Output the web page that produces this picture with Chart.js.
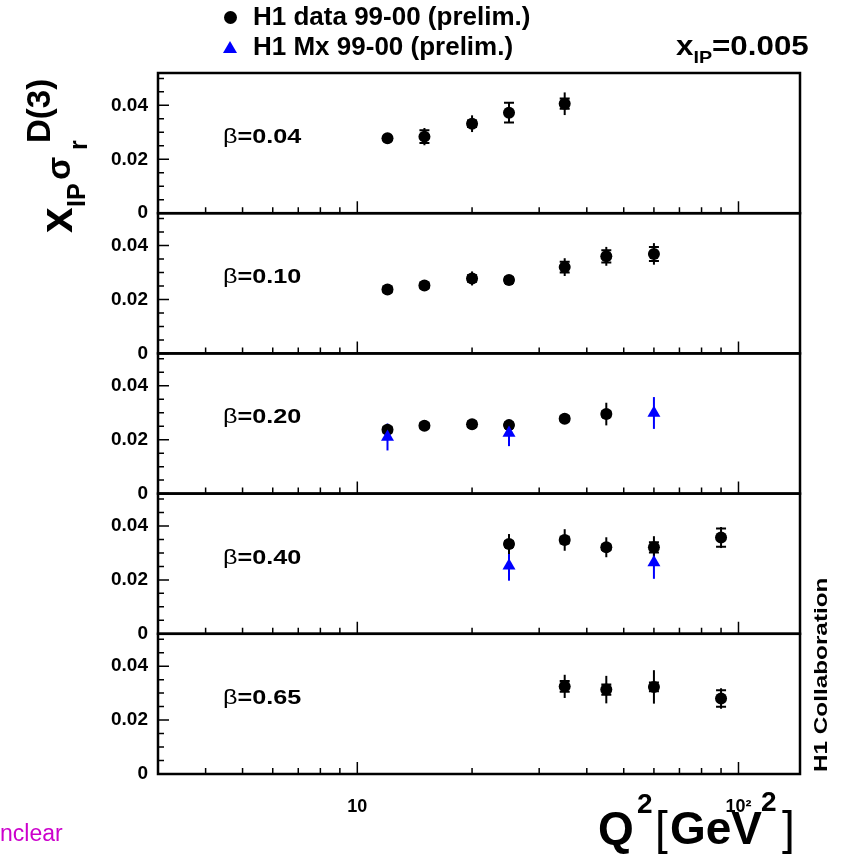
<!DOCTYPE html>
<html>
<head>
<meta charset="utf-8">
<script src="https://cdn.jsdelivr.net/npm/chart.js@4/dist/chart.umd.min.js"></script>
<style>
  body { margin: 0; background: #fff; font-family: "Liberation Sans", Arial, sans-serif; }
  #wrap { position: relative; width: 845px; height: 856px; overflow: hidden; }
  #wrap canvas { position: absolute; left: 0; top: 0; }
  .txt { position: absolute; white-space: nowrap; line-height: 1; color: #000; font-weight: bold; }
</style>
</head>
<body>
<div id="wrap">
  <canvas id="chart" width="845" height="856"></canvas>

  <!-- legend -->
  <div style="position:absolute;left:224px;top:11px;width:13px;height:13px;border-radius:50%;background:#000"></div>
  <div class="txt" style="left:253px;top:4px;font-size:25px;transform-origin:0 0;transform:scaleX(1.04)">H1 data 99-00 (prelim.)</div>
  <div style="position:absolute;left:223px;top:41px;width:0;height:0;border-left:7px solid transparent;border-right:7px solid transparent;border-bottom:12px solid #0000ff"></div>
  <div class="txt" style="left:253px;top:34px;font-size:25px;transform-origin:0 0;transform:scaleX(1.04)">H1 Mx 99-00 (prelim.)</div>

  <!-- x_IP label -->
  <div class="txt" style="left:676px;top:33px;font-size:27px;transform-origin:0 0;transform:scaleX(1.16)">x<span style="font-size:17px;position:relative;top:8px">IP</span>=0.005</div>

  <!-- y axis title, rotated -->
  <div style="position:absolute;left:20px;top:120px;width:200px;height:80px;transform-origin:100px 40px;transform:translate(-60px,0) rotate(-90deg);">
    <span class="txt" style="left:27px;top:13px;font-size:46px">x</span>
    <span class="txt" style="left:53px;top:44px;font-size:25px">IP</span>
    <span class="txt" style="left:80px;top:21px;font-size:34px">σ</span>
    <span class="txt" style="left:110px;top:46px;font-size:25px">r</span>
    <span class="txt" style="left:117px;top:2px;font-size:33px">D(3)</span>
  </div>

  <!-- x axis title -->
  <span class="txt" style="left:598px;top:805px;font-size:46px">Q</span>
  <span class="txt" style="left:637px;top:790px;font-size:28px">2</span>
  <span class="txt" style="left:655px;top:805px;font-size:46px;font-weight:normal">[</span>
  <span class="txt" style="left:670px;top:805px;font-size:46px">GeV</span>
  <span class="txt" style="left:761px;top:788px;font-size:28px">2</span>
  <span class="txt" style="left:782px;top:805px;font-size:46px;font-weight:normal">]</span>

  <!-- side note -->
  <div class="txt" style="left:812px;top:772px;font-size:18px;transform-origin:0 0;transform:rotate(-90deg) scaleX(1.35);">H1 Collaboration</div>

  <div class="txt" style="left:0px;top:822px;font-size:23px;font-weight:normal;color:#cc00cc">nclear</div>
</div>

<script>
// Q^2 tick marks on the log axis
const xTickVals = [4, 5, 6, 7, 8, 9, 10, 20, 30, 40, 50, 60, 70, 80, 90, 100];

// beta = 0.04
const q2B004 = [12, 15, 20, 25, 35];
const valB004 = [0.0278, 0.0284, 0.0332, 0.0373, 0.0406];
const totB004 = [0.0008, 0.0032, 0.0031, 0.0038, 0.0042];
const statB004 = [0.0006, 0.0024, 0.0012, 0.0037, 0.0019];

// beta = 0.10
const q2B010 = [12, 15, 20, 25, 35, 45, 60];
const valB010 = [0.0237, 0.0252, 0.0278, 0.0272, 0.0320, 0.0360, 0.0369];
const totB010 = [0.0018, 0.0015, 0.0026, 0.0015, 0.0033, 0.0035, 0.0040];
const statB010 = [0.0010, 0.0010, 0.0012, 0.0010, 0.0020, 0.0023, 0.0026];

// beta = 0.20
const q2B020 = [12, 15, 20, 25, 35, 45];
const valB020 = [0.0237, 0.0252, 0.0257, 0.0254, 0.0278, 0.0295];
const totB020 = [0.0015, 0.0015, 0.0013, 0.0015, 0.0013, 0.0042];
const statB020 = [0.0010, 0.0010, 0.0010, 0.0010, 0.0010, 0.0010];
const mxQ2B020 = [12, 25, 60];
const mxValB020 = [0.0210, 0.0225, 0.0299];
const mxTotB020 = [0.0050, 0.0049, 0.0059];

// beta = 0.40
const q2B040 = [25, 35, 45, 60, 90];
const valB040 = [0.0333, 0.0348, 0.0321, 0.0321, 0.0357];
const totB040 = [0.0037, 0.0040, 0.0037, 0.0041, 0.0039];
const statB040 = [0.0010, 0.0012, 0.0010, 0.0019, 0.0034];
const mxQ2B040 = [25, 60];
const mxValB040 = [0.0252, 0.0264];
const mxTotB040 = [0.0055, 0.0060];

// beta = 0.65
const q2B065 = [35, 45, 60, 90];
const valB065 = [0.0325, 0.0313, 0.0323, 0.0280];
const totB065 = [0.0043, 0.0051, 0.0062, 0.0038];
const statB065 = [0.0020, 0.0019, 0.0016, 0.0031];

const betaLabels = ['0.04', '0.10', '0.20', '0.40', '0.65'];

const panels = [
    { q2: q2B004, val: valB004, tot: totB004, stat: statB004, mxQ2: [], mxVal: [], mxTot: [] },
    { q2: q2B010, val: valB010, tot: totB010, stat: statB010, mxQ2: [], mxVal: [], mxTot: [] },
    { q2: q2B020, val: valB020, tot: totB020, stat: statB020, mxQ2: mxQ2B020, mxVal: mxValB020, mxTot: mxTotB020 },
    { q2: q2B040, val: valB040, tot: totB040, stat: statB040, mxQ2: mxQ2B040, mxVal: mxValB040, mxTot: mxTotB040 },
    { q2: q2B065, val: valB065, tot: totB065, stat: statB065, mxQ2: [], mxVal: [], mxTot: [] }
];

Chart.defaults.font.family = '"Liberation Sans", Arial, sans-serif';
Chart.defaults.color = '#000';

const datasets = [];
const scales = {};

panels.forEach((p, i) => {
    const yId = 'y' + i;
    datasets.push({
        label: 'H1 Mx 99-00 (prelim.)',
        yAxisID: yId,
        order: 0,
        data: p.mxQ2.map((x, j) => ({ x: x, y: p.mxVal[j], tot: p.mxTot[j], stat: 0 })),
        pointStyle: 'triangle',
        pointRadius: 7.5,
        backgroundColor: '#0000ff',
        borderColor: '#0000ff',
        borderWidth: 0,
        barColor: '#0000ff'
    });
    datasets.push({
        label: 'H1 data 99-00 (prelim.)',
        yAxisID: yId,
        order: 1,
        data: p.q2.map((x, j) => ({ x: x, y: p.val[j], tot: p.tot[j], stat: p.stat[j] })),
        pointStyle: 'circle',
        pointRadius: 6,
        backgroundColor: '#000',
        borderColor: '#000',
        borderWidth: 0,
        barColor: '#000'
    });

    scales[yId] = {
        type: 'linear',
        position: 'left',
        stack: 'panels',
        stackWeight: 1,
        weight: 10 - i,
        min: 0,
        max: 0.052,
        grid: { display: false, drawTicks: false },
        border: { display: false },
        ticks: {
            stepSize: 0.005,
            autoSkip: false,
            includeBounds: false,
            padding: 10,
            font: { size: 19, weight: 'bold' },
            callback: v => {
                const r = Math.round(v * 1000);
                if (r === 0) return '0';
                if (r === 20) return '0.02';
                if (r === 40) return '0.04';
                return '';
            }
        },
        afterFit: s => { s.width = 158; }
    };
});

scales.x = {
    type: 'logarithmic',
    position: 'bottom',
    min: 3,
    max: 145,
    grid: { display: false, drawTicks: false },
    border: { display: false },
    afterBuildTicks: s => {
        s.ticks = xTickVals.map(v => ({ value: v, major: v === 10 || v === 100 }));
    },
    ticks: {
        autoSkip: false,
        maxRotation: 0,
        padding: 22,
        font: { size: 18, weight: 'bold' },
        callback: v => v === 10 ? '10' : (v === 100 ? '10²' : '')
    },
    afterFit: s => { s.height = 82; }
};

// error bars: full line = total error, small caps = statistical error
const errorBars = {
    id: 'errorBars',
    beforeDatasetsDraw(chart) {
        const ctx = chart.ctx;
        ctx.save();
        chart.data.datasets.forEach((ds, di) => {
            const meta = chart.getDatasetMeta(di);
            const ys = chart.scales[ds.yAxisID];
            ctx.strokeStyle = ds.barColor;
            ctx.lineWidth = 2;
            meta.data.forEach((el, j) => {
                const d = ds.data[j];
                const top = ys.getPixelForValue(d.y + d.tot);
                const bot = ys.getPixelForValue(d.y - d.tot);
                ctx.beginPath();
                ctx.moveTo(el.x, top);
                ctx.lineTo(el.x, bot);
                ctx.stroke();
                if (d.stat > 0) {
                    const st = ys.getPixelForValue(d.y + d.stat);
                    const sb = ys.getPixelForValue(d.y - d.stat);
                    ctx.beginPath();
                    ctx.moveTo(el.x - 5, st); ctx.lineTo(el.x + 5, st);
                    ctx.moveTo(el.x - 5, sb); ctx.lineTo(el.x + 5, sb);
                    ctx.stroke();
                }
            });
        });
        ctx.restore();
    }
};

// panel frames, inward ticks and beta labels
const panelFrames = {
    id: 'panelFrames',
    afterDatasetsDraw(chart) {
        const ctx = chart.ctx;
        const xs = chart.scales.x;
        const area = chart.chartArea;
        ctx.save();
        ctx.strokeStyle = '#000';
        panels.forEach((p, i) => {
            const ys = chart.scales['y' + i];
            ctx.lineWidth = 1.5;
            ctx.beginPath();
            ys.ticks.forEach(t => {
                const y = ys.getPixelForValue(t.value);
                const major = Math.round(t.value * 1000) % 20 === 0;
                ctx.moveTo(area.left, y);
                ctx.lineTo(area.left + (major ? 11 : 6), y);
            });
            xs.ticks.forEach(t => {
                const x = xs.getPixelForValue(t.value);
                ctx.moveTo(x, ys.bottom);
                ctx.lineTo(x, ys.bottom - (t.major ? 12 : 6));
            });
            ctx.stroke();

            ctx.lineWidth = 2.5;
            ctx.strokeRect(area.left, ys.top, area.right - area.left, ys.bottom - ys.top);

            ctx.save();
            ctx.translate(area.left + 65, ys.top + 70);
            ctx.scale(1.2, 1);
            ctx.fillStyle = '#000';
            ctx.textBaseline = 'alphabetic';
            ctx.font = '21px "Liberation Sans", Arial, sans-serif';
            ctx.fillText('β', 0, 0);
            const bw = ctx.measureText('β').width;
            ctx.font = 'bold 21px "Liberation Sans", Arial, sans-serif';
            ctx.fillText('=' + betaLabels[i], bw, 0);
            ctx.restore();
        });
        ctx.restore();
    }
};

new Chart(document.getElementById('chart'), {
    type: 'scatter',
    data: { datasets: datasets },
    options: {
        responsive: false,
        animation: false,
        layout: { padding: { top: 73, right: 45, bottom: 0, left: 0 } },
        plugins: { legend: { display: false }, tooltip: { enabled: false } },
        scales: scales
    },
    plugins: [errorBars, panelFrames]
});
</script>
</body>
</html>
